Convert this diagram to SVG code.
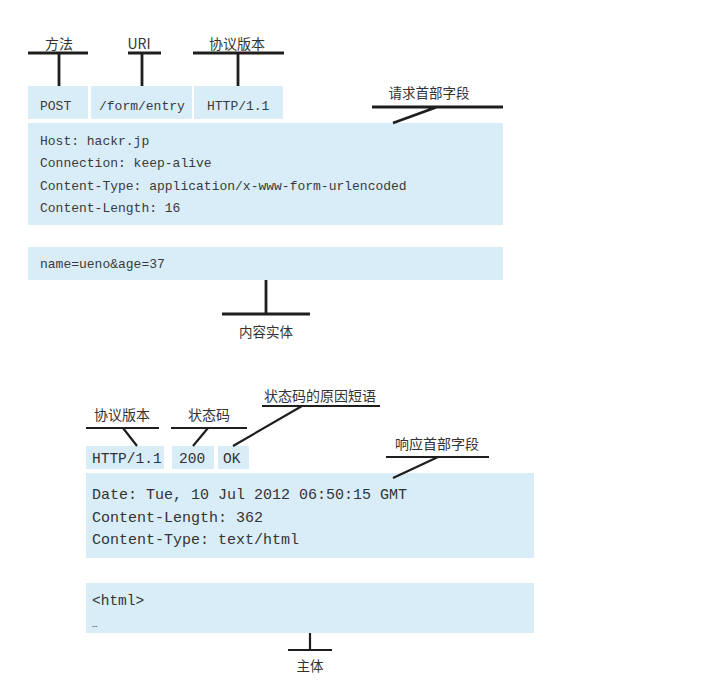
<svg xmlns="http://www.w3.org/2000/svg" width="724" height="691" viewBox="0 0 724 691">
<style>
.box{fill:#d9edf8}
.mono{font-family:"Liberation Mono","DejaVu Sans Mono",monospace;fill:#3a3a3a}
.mono2{font-family:"Liberation Mono","DejaVu Sans Mono",monospace;fill:#333}
.cjk{font-family:"Noto Sans CJK SC","Noto Sans CJK JP",sans-serif;fill:#333;text-anchor:middle}
.ln{stroke:#1e1e1e;fill:none}
.t{stroke-width:2.8}
.r{stroke-width:2.2}
</style>
<rect width="724" height="691" fill="#ffffff"/>
<g id="req-method"><rect class="box" x="28" y="86" width="60" height="33"/><text class="mono" x="40" y="110" font-size="13">POST</text></g>
<g id="req-uri"><rect class="box" x="91" y="86" width="101" height="33"/><text class="mono" x="99" y="110" font-size="13">/form/entry</text></g>
<g id="req-version"><rect class="box" x="194" y="86" width="89" height="33"/><text class="mono" x="207" y="110" font-size="13">HTTP/1.1</text></g>
<g id="req-headers"><rect class="box" x="28" y="123" width="475" height="102"/>
<text class="mono" font-size="13"><tspan x="40" y="145">Host: hackr.jp</tspan><tspan x="40" y="167">Connection: keep-alive</tspan><tspan x="40" y="190">Content-Type: application/x-www-form-urlencoded</tspan><tspan x="40" y="212">Content-Length: 16</tspan></text></g>
<g id="req-body"><rect class="box" x="28" y="247" width="475" height="33"/><text class="mono" x="40" y="268" font-size="13">name=ueno&amp;age=37</text></g>
<g id="lbl-method"><text class="cjk" x="59" y="49" font-size="14">方法</text></g>
<g id="lbl-uri"><text class="cjk" x="139" y="49" font-size="14">URI</text></g>
<g id="lbl-version"><text class="cjk" x="237" y="49" font-size="14">协议版本</text></g>
<g id="lbl-req-headers"><text class="cjk" x="429" y="98" font-size="13.5">请求首部字段</text></g>
<g id="lbl-entity"><text class="cjk" x="266" y="337" font-size="13.5">内容实体</text></g>
<g id="res-version"><rect class="box" x="86" y="446" width="78" height="23"/><text class="mono2" x="92" y="463" font-size="14.5">HTTP/1.1</text></g>
<g id="res-status"><rect class="box" x="172" y="446" width="42" height="23"/><text class="mono2" x="179" y="463" font-size="14.5">200</text></g>
<g id="res-reason"><rect class="box" x="218" y="446" width="31" height="23"/><text class="mono2" x="223" y="463" font-size="14.5">OK</text></g>
<g id="res-headers"><rect class="box" x="86" y="473" width="448" height="85"/>
<text class="mono2" font-size="15"><tspan x="92" y="499">Date: Tue, 10 Jul 2012 06:50:15 GMT</tspan><tspan x="92" y="522">Content-Length: 362</tspan><tspan x="92" y="544">Content-Type: text/html</tspan></text></g>
<g id="res-body"><rect class="box" x="86" y="583" width="448" height="50"/><text class="mono2" x="92" y="605" font-size="14.5">&lt;html&gt;</text><text class="mono2" x="92" y="627" font-size="9">…</text></g>
<g id="lbl-res-version"><text class="cjk" x="122" y="420" font-size="14">协议版本</text></g>
<g id="lbl-res-status"><text class="cjk" x="209" y="420" font-size="14">状态码</text></g>
<g id="lbl-res-reason"><text class="cjk" x="320" y="401" font-size="14">状态码的原因短语</text></g>
<g id="lbl-res-headers"><text class="cjk" x="437" y="449" font-size="14">响应首部字段</text></g>
<g id="lbl-body"><text class="cjk" x="310" y="671" font-size="13.5">主体</text></g>
<g id="connectors">
<path class="ln t" d="M28 53H88M59 53V86"/>
<path class="ln t" d="M128 53H161M142 53V86"/>
<path class="ln t" d="M193 53H284M238 53V86"/>
<path class="ln t" d="M372 107H503M437 107L393 123"/>
<path class="ln t" d="M266 280V314M222 314H310"/>
<path class="ln r" d="M86 428H159M123 428L137 446"/>
<path class="ln r" d="M171 428H247M208 428L193 446"/>
<path class="ln r" d="M262 406H380M302 406L233 446"/>
<path class="ln r" d="M386 457H489M438 457L393 478"/>
<path class="ln r" d="M310 633V650M288 650H332"/>
</g>
</svg>
